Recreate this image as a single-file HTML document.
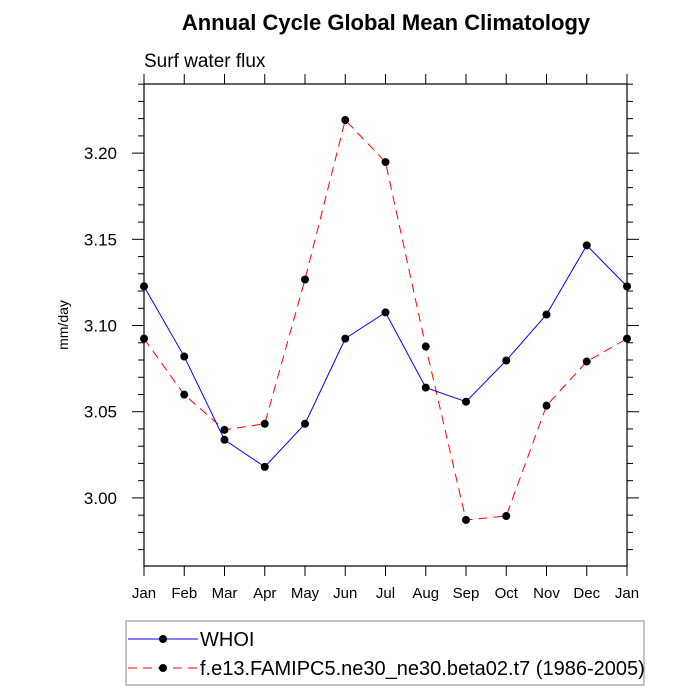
<!DOCTYPE html>
<html><head><meta charset="utf-8"><style>
html,body{margin:0;padding:0;background:#fff}
svg{display:block;font-family:"Liberation Sans",sans-serif}
</style></head><body>
<svg id="chart" width="700" height="700" xmlns="http://www.w3.org/2000/svg">
<text x="386" y="30" text-anchor="middle" font-size="22" font-weight="bold">Annual Cycle Global Mean Climatology</text>
<text x="144" y="67" font-size="19">Surf water flux</text>
<text transform="translate(68,325) rotate(-90)" text-anchor="middle" font-size="14">mm/day</text>
<g id="axes"></g>
<g id="series"></g>
<g>
<rect x="126" y="621" width="518" height="64" fill="#fff" stroke="#888" stroke-width="1"/>
<g>
<line x1="128" y1="639" x2="198" y2="639" stroke="#0000ff" stroke-width="1"/>
<circle cx="163" cy="639" r="4" fill="#000"/>
<text x="200" y="646" font-size="20">WHOI</text></g>
<g>
<line x1="128" y1="668" x2="198" y2="668" stroke="#ff0000" stroke-width="1" stroke-dasharray="9,6"/>
<circle cx="163" cy="668" r="4" fill="#000"/>
<text x="200" y="675" font-size="20">f.e13.FAMIPC5.ne30_ne30.beta02.t7 (1986-2005)</text></g>
</g>
</svg>
<script>
const months=["Jan","Feb","Mar","Apr","May","Jun","Jul","Aug","Sep","Oct","Nov","Dec","Jan"];
const whoi=[3.1227,3.082,3.0337,3.018,3.043,3.0924,3.1076,3.064,3.0558,3.0797,3.1064,3.1465,3.1227];
const model=[3.0924,3.0599,3.0395,3.043,3.1267,3.2192,3.1948,3.0878,2.9872,2.9895,3.0535,3.0791,3.0924];
const yTicks=[3.00,3.05,3.10,3.15,3.20];
const yTickLabels=["3.00","3.05","3.10","3.15","3.20"];
const NS="http://www.w3.org/2000/svg";
const L=144,R=627,T=84,B=566,YMIN=2.9605,YMAX=3.2401;
function xs(i){return L+(R-L)*i/(months.length-1);}
function ys(v){return B-(v-YMIN)/(YMAX-YMIN)*(B-T);}
function mk(tag,attrs,parent){const e=document.createElementNS(NS,tag);for(const k in attrs)e.setAttribute(k,attrs[k]);parent.appendChild(e);return e;}
const ax=document.getElementById('axes');
const frame=mk('rect',{x:L,y:T,width:R-L,height:B-T,fill:'none',stroke:'#000','stroke-width':1.2},ax);


months.forEach((m,i)=>{
  const x=xs(i);
  mk('line',{x1:x,y1:B,x2:x,y2:B+10,stroke:'#000'},ax);
  mk('line',{x1:x,y1:T,x2:x,y2:T-10,stroke:'#000'},ax);
  const t=mk('text',{x:x,y:B+32,'text-anchor':'middle','font-size':15},ax);
  t.textContent=m;
  
  
});
for(let k=Math.ceil(YMIN*100);k<=Math.floor(YMAX*100);k++){
  const y=ys(k/100),major=(k%5===0);const len=major?12:6;
  mk('line',{x1:L,y1:y,x2:L-len,y2:y,stroke:'#000'},ax);
  mk('line',{x1:R,y1:y,x2:R+len,y2:y,stroke:'#000'},ax);
}
yTicks.forEach((v,i)=>{
  const t=mk('text',{x:L-27,y:ys(v)+6,'text-anchor':'end','font-size':17},ax);
  t.textContent=yTickLabels[i];
  
  
});
const sg=document.getElementById('series');
function draw(vals,color,dash,name){
  const g=mk('g',{},sg);
  
  
  const pl=mk('polyline',{points:vals.map((v,i)=>xs(i)+','+ys(v)).join(' '),fill:'none',stroke:color,'stroke-width':1,'stroke-dasharray':dash},g);
  
  
  vals.forEach((v,i)=>{
    const c=mk('circle',{cx:xs(i),cy:ys(v),r:4,fill:'#000'},g);
    
    
  });
}
draw(model,'#ff0000','9,6','model-series');
draw(whoi,'#0000ff','none','whoi-series');
</script>
</body></html>
